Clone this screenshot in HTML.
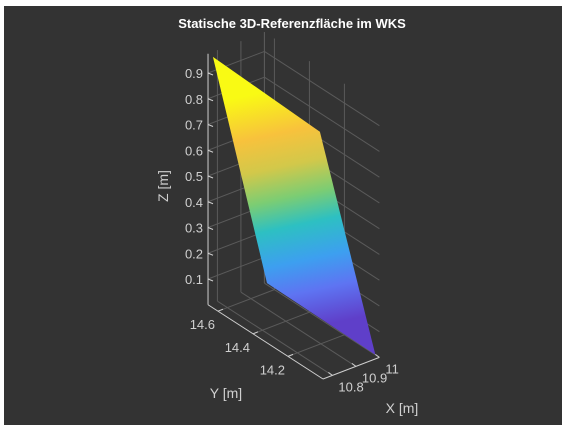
<!DOCTYPE html>
<html><head><meta charset="utf-8"><style>
html,body{margin:0;padding:0;background:#fff;width:566px;height:430px;overflow:hidden}
#fig{position:absolute;left:4px;top:6px;width:558px;height:419px;background:#333333}
svg{position:absolute;left:0;top:0}
text{font-family:"Liberation Sans",sans-serif;fill:#d0d0d0}
</style></head><body>
<div id="fig"></div>
<svg id="chart" width="566" height="430">
<defs>
<linearGradient id="parula" gradientUnits="userSpaceOnUse" x1="250" y1="95" x2="300" y2="330">
<stop offset="0" stop-color="#f9fa14"/>
<stop offset="0.18" stop-color="#f8c23c"/>
<stop offset="0.32" stop-color="#d2c84a"/>
<stop offset="0.45" stop-color="#7ccd73"/>
<stop offset="0.57" stop-color="#2dc0c2"/>
<stop offset="0.72" stop-color="#3d9ff0"/>
<stop offset="0.85" stop-color="#5e74f2"/>
<stop offset="1" stop-color="#5f3fc9"/>
</linearGradient>
</defs>
<text x="292" y="28" text-anchor="middle" font-size="13" font-weight="bold" style="fill:#ffffff">Statische 3D-Referenzfläche im WKS</text>
<g id="grid"></g>
<g id="surf"></g>
<g id="axes"></g>
</svg>
<script>
const xTicks=[10.8,10.9,11];
const yTicks=[14.2,14.4,14.6];
const zTicks=[0.1,0.2,0.3,0.4,0.5,0.6,0.7,0.8,0.9];
const xRange=[10.76,11.0];
const yRange=[14.0,14.657];
const zRange=[0,0.975];
// surface corners: x, y, z
const surfX=[10.76,11.0,11.0,10.76];
const surfY=[14.629,14.34,14.023,14.32];
const surfZ=[0.975,0.727,0.0,0.232];

const NS="http://www.w3.org/2000/svg";
function P(x,y,z){
  return [323+(x-xRange[0])*235-(y-yRange[0])*175, 379-(x-xRange[0])*90-(y-yRange[0])*113-z*257.5];
}
function line(g,a,b,stroke,w,name){
  const l=document.createElementNS(NS,'line');
  l.setAttribute('x1',a[0]);l.setAttribute('y1',a[1]);l.setAttribute('x2',b[0]);l.setAttribute('y2',b[1]);
  l.setAttribute('stroke',stroke);l.setAttribute('stroke-width',w);
  
  
  g.appendChild(l);return l;
}
function txt(g,s,p,anchor,name,size){
  const t=document.createElementNS(NS,'text');
  t.setAttribute('x',p[0]);t.setAttribute('y',p[1]);t.setAttribute('text-anchor',anchor);
  t.setAttribute('font-size',size||13);t.textContent=s;
  
  
  g.appendChild(t);return t;
}
const grid=document.getElementById('grid'),axes=document.getElementById('axes'),surf=document.getElementById('surf');
const gc='#5a5a5a';
const x0=xRange[0],x1=xRange[1],y0=yRange[0],y1=yRange[1],z1=zRange[1];
line(grid,P(x1,y1,0),P(x1,y1,z1),gc,1,'grid-corner');
zTicks.forEach(z=>{
  line(grid,P(x0,y1,z),P(x1,y1,z),gc,1,'grid-z-back');
  line(grid,P(x1,y1,z),P(x1,y0,z),gc,1,'grid-z-side');
});
xTicks.forEach(x=>{
  line(grid,P(x,y1,0),P(x,y1,z1),gc,1,'grid-x-wall');
  line(grid,P(x,y1,0),P(x,y0,0),gc,1,'grid-x-floor');
});
yTicks.forEach(y=>{
  line(grid,P(x1,y,0),P(x1,y,z1),gc,1,'grid-y-wall');
  line(grid,P(x0,y,0),P(x1,y,0),gc,1,'grid-y-floor');
});
const poly=document.createElementNS(NS,'polygon');
poly.setAttribute('points',surfX.map((x,i)=>P(x,surfY[i],surfZ[i]).join(',')).join(' '));
poly.setAttribute('fill','url(#parula)');


surf.appendChild(poly);
const ac='#cfcfcf';
line(axes,P(x0,y1,0),P(x0,y1,z1),ac,1,'z-axis');
line(axes,P(x0,y1,0),P(x0,y0,0),ac,1,'y-axis');
line(axes,P(x0,y0,0),P(x1,y0,0),ac,1,'x-axis');
zTicks.forEach(z=>{
  const p=P(x0,y1,z);
  line(axes,p,[p[0]+5,p[1]+2],ac,1,'z-tick');
  txt(axes,String(z),[p[0]-5,p[1]+5],'end','z-tick-label');
});
yTicks.forEach(y=>{
  const p=P(x0,y,0);
  line(axes,p,[p[0]+5,p[1]-2],ac,1,'y-tick');
  txt(axes,y.toFixed(1),[p[0]-3,p[1]+18],'end','y-tick-label');
});
xTicks.forEach(x=>{
  const p=P(x,y0,0);
  line(axes,p,[p[0]-4,p[1]-3],ac,1,'x-tick');
  txt(axes,String(x),[p[0]+6,p[1]+16],'start','x-tick-label');
});
const zl=txt(axes,'Z [m]',[0,0],'middle','z-axis-title',14);
zl.setAttribute('transform','translate(168,186) rotate(-90)');
txt(axes,'Y [m]',[226,398],'middle','y-axis-title',14);
txt(axes,'X [m]',[402,413],'middle','x-axis-title',14);
</script>
</body></html>
